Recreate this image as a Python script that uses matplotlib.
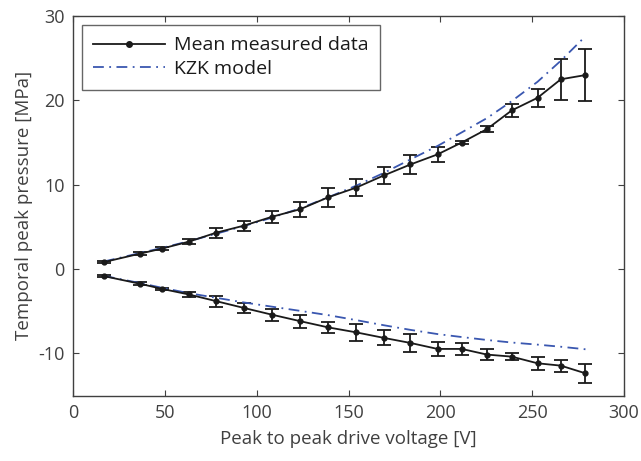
import matplotlib
matplotlib.use("Agg")
import matplotlib.pyplot as plt
from matplotlib.lines import Line2D

# drive voltage (peak to peak) [V]
voltage = [16.8, 36.4, 48.2, 63.0, 78.0, 93.0, 108.3, 123.7, 138.8, 154.3,
           169.2, 183.7, 198.5, 211.6, 225.4, 238.8, 252.9, 265.6, 279.0]

# measured peak positive pressure [MPa] and its spread
p_pos = [0.83, 1.83, 2.42, 3.25, 4.32, 5.15, 6.2, 7.1, 8.5, 9.67,
         11.1, 12.4, 13.6, 15.0, 16.6, 18.8, 20.3, 22.5, 23.0]
p_pos_err = [0.1, 0.15, 0.15, 0.3, 0.6, 0.6, 0.73, 0.9, 1.1, 1.05,
             1.0, 1.13, 0.85, 0.2, 0.4, 0.8, 1.1, 2.4, 3.05]

# measured peak negative pressure [MPa] and its spread
p_neg = [-0.83, -1.73, -2.33, -3.0, -3.8, -4.6, -5.4, -6.17, -6.9, -7.5,
         -8.15, -8.75, -9.46, -9.46, -10.13, -10.37, -11.16, -11.44, -12.35]
p_neg_err = [0.1, 0.15, 0.15, 0.3, 0.65, 0.6, 0.73, 0.75, 0.68, 0.97,
             0.9, 1.05, 0.83, 0.7, 0.7, 0.44, 0.77, 0.7, 1.09]

# KZK simulation
kzk_pos = [0.9, 1.9, 2.5, 3.3, 4.2, 5.1, 6.1, 7.2, 8.5, 9.9,
           11.4, 13.0, 14.6, 16.2, 17.9, 19.9, 22.2, 24.7, 27.6]
kzk_neg = [-0.8, -1.65, -2.2, -2.85, -3.4, -3.95, -4.45, -4.95, -5.45, -6.05,
           -6.65, -7.2, -7.7, -8.05, -8.4, -8.7, -8.95, -9.2, -9.5]

plt.rcParams['font.family'] = ['Open Sans', 'DejaVu Sans']
plt.rcParams['axes.unicode_minus'] = False
gray = '#404040'
black = '#1a1a1a'
blue = '#3a57b0'
dashdot = (0, (6, 3, 1, 3))

fig = plt.figure(figsize=(6.41, 4.61), dpi=100)
ax = fig.add_axes([0.1139, 0.1417, 0.8596, 0.8236])

for p, e in [(p_pos, p_pos_err), (p_neg, p_neg_err)]:
    ax.errorbar(voltage, p, yerr=e, color=black, lw=1.3, marker='o', ms=3.5,
                capsize=5, elinewidth=1.3, capthick=1.3)
ax.plot(voltage, kzk_pos, color=blue, lw=1.3, ls=dashdot)
ax.plot(voltage, kzk_neg, color=blue, lw=1.3, ls=dashdot)

ax.set_xlim(0, 300)
ax.set_ylim(-15, 30)
ax.set_xticks([0, 50, 100, 150, 200, 250, 300])
ax.set_yticks([-10, 0, 10, 20, 30])
ax.tick_params(direction='in', top=True, right=True, length=4,
               labelsize=13, colors=gray, pad=6)
for s in ax.spines.values():
    s.set_color(gray)
    s.set_linewidth(1.0)

ax.set_xlabel('Peak to peak drive voltage [V]', fontsize=13.5, color=gray, labelpad=6)
ax.set_ylabel('Temporal peak pressure [MPa]', fontsize=13.5, color=gray, labelpad=4)

handles = [Line2D([], [], color=black, lw=1.3, marker='o', ms=4),
           Line2D([], [], color=blue, lw=1.3, ls=dashdot)]
leg = ax.legend(handles, ['Mean measured data', 'KZK model'], loc='upper left',
                fontsize=14, frameon=True, fancybox=False, edgecolor=gray,
                borderaxespad=0.45, handlelength=3.7, handletextpad=0.45,
                labelspacing=0.3, borderpad=0.6)
leg.get_frame().set_linewidth(1.0)
for t in leg.get_texts():
    t.set_color(black)

fig.savefig('out.png', dpi=100)
